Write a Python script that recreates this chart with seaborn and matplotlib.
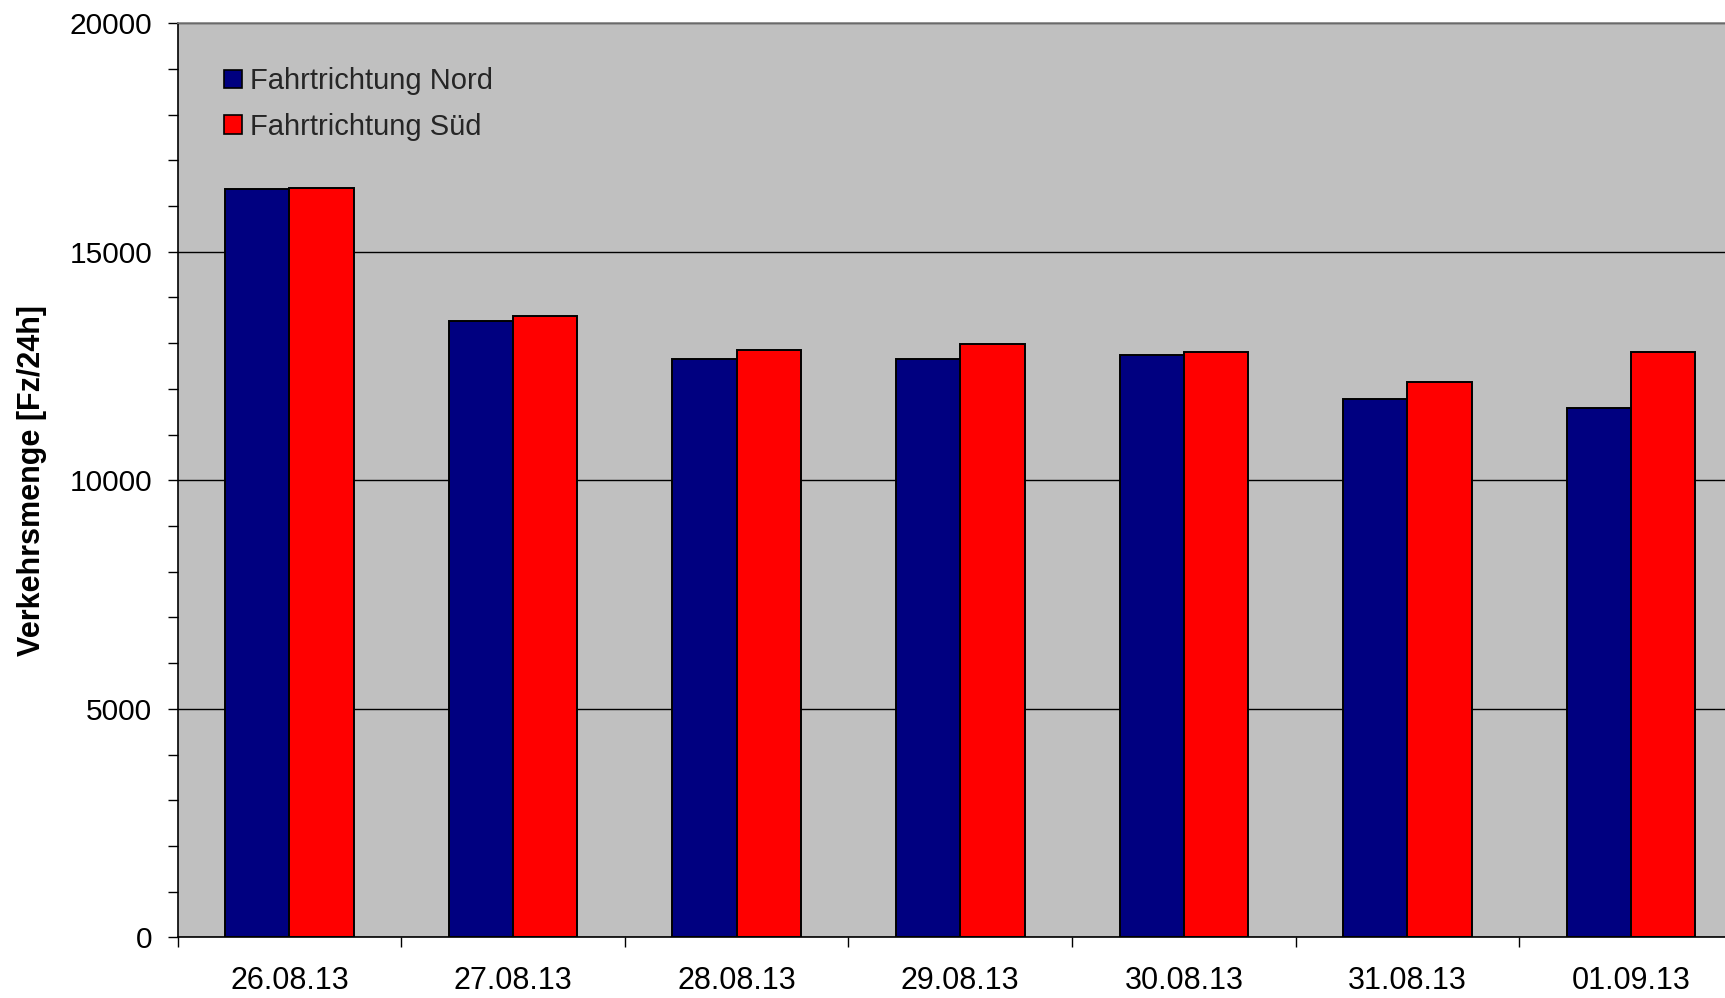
import matplotlib
matplotlib.use("Agg")
import matplotlib.pyplot as plt
from matplotlib.patches import Patch
from matplotlib.ticker import MultipleLocator, FixedLocator, NullFormatter
import seaborn as sns
import pandas as pd

# ---- data ----
dates = ["26.08.13", "27.08.13", "28.08.13", "29.08.13", "30.08.13", "31.08.13", "01.09.13"]
nord = [16370, 13480, 12650, 12650, 12735, 11785, 11575]
sued = [16405, 13600, 12850, 12985, 12800, 12150, 12800]
series_names = ["Fahrtrichtung Nord", "Fahrtrichtung Süd"]
colors = ["#000080", "#FF0000"]
y_label = "Verkehrsmenge [Fz/24h]"

df = pd.DataFrame({
    "Datum": dates * 2,
    "Wert": nord + sued,
    "Richtung": [series_names[0]] * len(dates) + [series_names[1]] * len(dates),
})

sns.set_style("ticks")
plt.rcParams["font.family"] = ["Liberation Sans", "DejaVu Sans"]

W, H = 1725, 998
fig = plt.figure(figsize=(W / 100, H / 100), dpi=100)
left, top, bottom = 177.7, 23.3, 937.3
ax = fig.add_axes([left / W, 1 - bottom / H, 1 - left / W, (bottom - top) / H])
ax.set_facecolor("#C0C0C0")

sns.barplot(data=df, x="Datum", y="Wert", hue="Richtung", order=dates,
            hue_order=series_names, palette=colors, saturation=1,
            width=0.575, edgecolor="black", linewidth=1.4, errorbar=None,
            legend=False, ax=ax)

ax.set_ylim(0, 20000)
ax.set_xlim(-0.5, 6.42)

# y axis
ax.yaxis.set_major_locator(MultipleLocator(5000))
ax.yaxis.set_minor_locator(MultipleLocator(1000))
ax.tick_params(axis="y", which="both", direction="out", length=7.5, width=1.0,
               color="black", labelsize=21.5, pad=11, labelcolor="black")

# x axis: ticks at category boundaries, labels at category centers
n = len(dates)
ax.xaxis.set_major_locator(FixedLocator([i - 0.5 for i in range(n + 1)]))
ax.xaxis.set_major_formatter(NullFormatter())
ax.set_xticks(list(range(n)), minor=True)
ax.set_xticklabels(dates, minor=True)
ax.tick_params(axis="x", which="major", direction="out", length=7.5, width=1.0, color="black")
ax.tick_params(axis="x", which="minor", length=0, labelsize=22, pad=21, labelcolor="black")

ax.set_xlabel("")
ax.set_ylabel(y_label, fontsize=22, fontweight="bold", color="black")
ax.yaxis.set_label_coords(-(left - 47) / (W - left), 0.5)

# grid
ax.set_axisbelow(True)
ax.yaxis.grid(True, which="major", color="black", linewidth=1.0)
gl = ax.get_ygridlines()
gl[0].set_visible(False)
gl[-1].set_visible(False)

# spines
for s in ["left", "bottom"]:
    ax.spines[s].set_color("black")
    ax.spines[s].set_linewidth(1.2)
ax.spines["top"].set_visible(True)
ax.spines["top"].set_color("#808080")
ax.spines["top"].set_linewidth(1.2)
ax.spines["right"].set_visible(False)

# legend
handles = [Patch(facecolor=c, edgecolor="black", linewidth=1.2, label=l)
           for c, l in zip(colors, series_names)]
leg = ax.legend(handles=handles, loc="upper left",
                bbox_to_anchor=(46.3 / (W - left), 0.952),
                frameon=False, fontsize=21, handlelength=0.6, handleheight=0.6,
                handletextpad=0.3, labelspacing=0.6, borderpad=0, borderaxespad=0)

fig.savefig("out.png", dpi=100, facecolor="white")
